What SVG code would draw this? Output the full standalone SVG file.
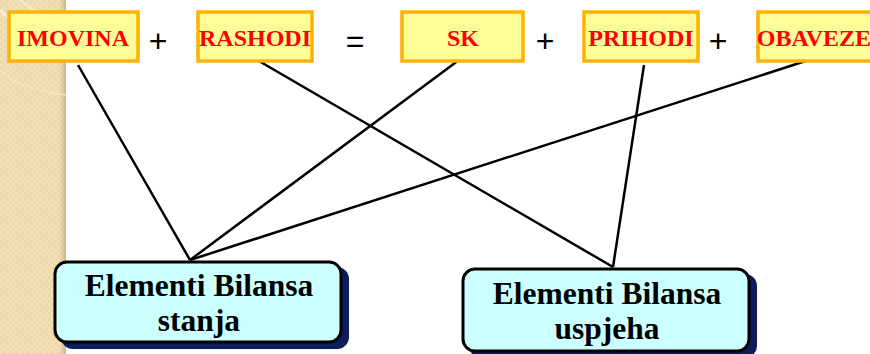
<svg xmlns="http://www.w3.org/2000/svg" width="870" height="354" viewBox="0 0 870 354">
<defs>
<pattern id="dots" width="6" height="6" patternUnits="userSpaceOnUse">
<rect width="6" height="6" fill="#f1dfb6"/>
<rect width="3" height="3" fill="#ecd8a9"/>
<rect x="3" y="3" width="3" height="3" fill="#ecd8a9"/>
</pattern>
<linearGradient id="edge" x1="0" x2="1" y1="0" y2="0">
<stop offset="0" stop-color="#e8d4a6" stop-opacity="0"/>
<stop offset="1" stop-color="#c9b283"/>
</linearGradient>
</defs>
<style>
.top rect{fill:#ffff99;stroke:#ffb300;stroke-width:3.5}
.top text{font-family:"Liberation Serif",serif;font-weight:bold;font-size:24px;fill:#ff0000;text-anchor:middle}
.op{font-family:"Liberation Sans",sans-serif;font-size:32px;fill:#000;text-anchor:middle}
.bot .sh{fill:#0b1c5c}
.bot .bx{fill:#ccffff;stroke:#000;stroke-width:3}
.bot text{font-family:"Liberation Serif",serif;font-weight:bold;font-size:31.5px;fill:#000;text-anchor:middle}
#connectors line{stroke:#000;stroke-width:2.5}
</style>
<rect width="870" height="354" fill="#fff"/>
<g id="background">
<rect x="0" y="0" width="66" height="354" fill="url(#dots)"/>
<rect x="58" y="0" width="8" height="354" fill="url(#edge)"/>
<path d="M0 10 Q30 40 66 48" fill="none" stroke="#f7ecd2" stroke-width="3"/>
<path d="M20 0 Q45 20 66 22" fill="none" stroke="#f7ecd2" stroke-width="2"/>
<path d="M0 70 Q20 90 66 95" fill="none" stroke="#f5e7c6" stroke-width="1.5"/>
</g>
<g id="connectors">
<line x1="78" y1="65" x2="190" y2="260"/>
<line x1="463" y1="57" x2="190" y2="260"/>
<line x1="818" y1="57" x2="190" y2="260"/>
<line x1="252" y1="57" x2="613" y2="267"/>
<line x1="644" y1="65" x2="613" y2="267"/>
</g>
<g id="imovina" class="top"><rect x="9" y="12" width="129" height="49"/><text x="73" y="46">IMOVINA</text></g>
<g id="rashodi" class="top"><rect x="198" y="12" width="114" height="49"/><text x="255" y="46">RASHODI</text></g>
<g id="sk" class="top"><rect x="402" y="12" width="121" height="49"/><text x="463" y="46">SK</text></g>
<g id="prihodi" class="top"><rect x="584" y="12" width="114" height="49"/><text x="641" y="46">PRIHODI</text></g>
<g id="obaveze" class="top"><rect x="758" y="12" width="120" height="49"/><text x="814" y="46">OBAVEZE</text></g>
<g id="operators">
<text class="op" x="158" y="52">+</text>
<text class="op" x="355" y="52">=</text>
<text class="op" x="545" y="52">+</text>
<text class="op" x="718" y="52">+</text>
</g>
<g id="bilans-stanja" class="bot">
<rect class="sh" x="61" y="267" width="288" height="82" rx="12"/>
<rect class="bx" x="55" y="262" width="286" height="80" rx="12"/>
<text x="199" y="296">Elementi Bilansa</text>
<text x="199" y="331">stanja</text>
</g>
<g id="bilans-uspjeha" class="bot">
<rect class="sh" x="469" y="274" width="288" height="84" rx="12"/>
<rect class="bx" x="463" y="269" width="286" height="82" rx="12"/>
<text x="607" y="304">Elementi Bilansa</text>
<text x="607" y="339">uspjeha</text>
</g>
</svg>
